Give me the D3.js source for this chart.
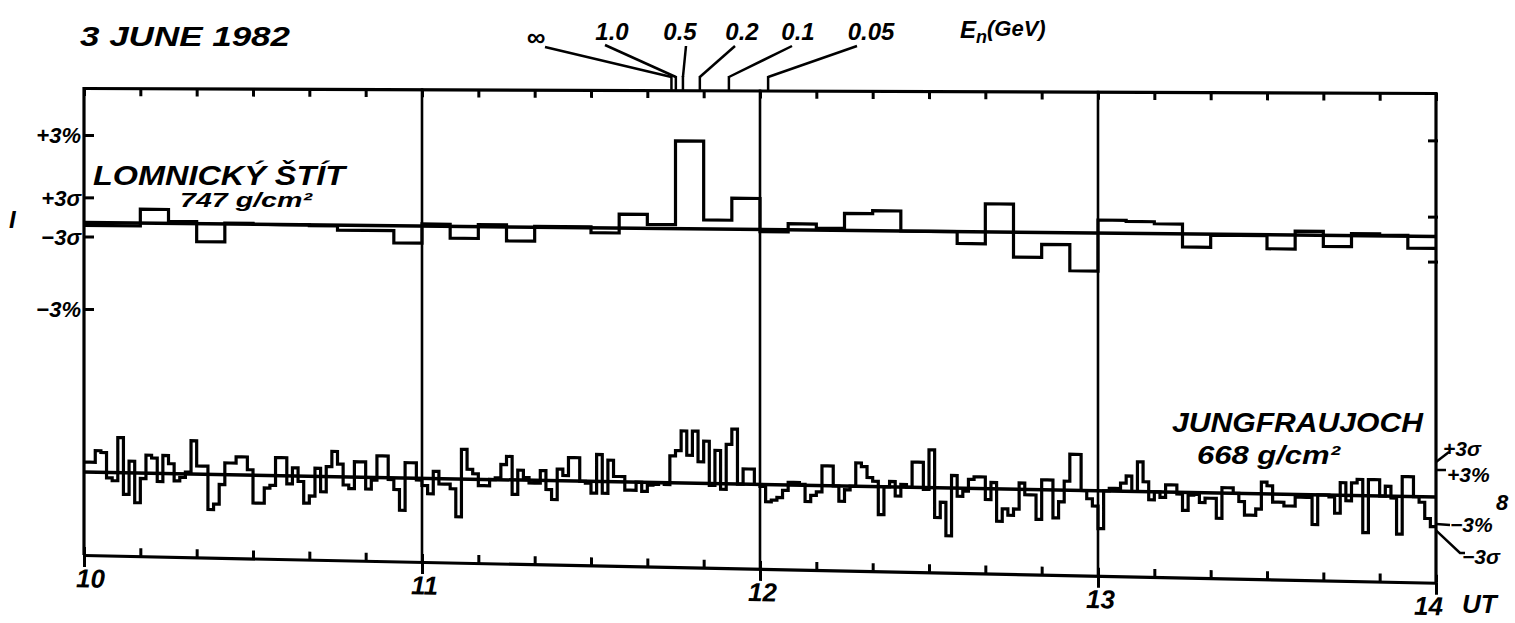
<!DOCTYPE html>
<html><head><meta charset="utf-8">
<script src="https://cdn.jsdelivr.net/npm/d3@7"></script>
<style>
html,body{margin:0;padding:0;background:#fff;}
svg{display:block;background:#fff;}
text{font-family:"Liberation Sans","DejaVu Sans",sans-serif;font-weight:bold;font-style:italic;fill:#000;}
</style></head><body>
<svg id="chart" width="1515" height="623"></svg>
<script>
// ---------------- DATA ----------------
const title = "3 JUNE 1982";
const hourTicks = [10, 11, 12, 13, 14];
const hourLabels = ["10", "11", "12", "13", "14"];
const timeUnit = "UT";
const energyLabels = ["∞", "1.0", "0.5", "0.2", "0.1", "0.05"];
const energyTimes = [11.738, 11.751, 11.772, 11.822, 11.908, 12.024];
const energyAxisTitle = ["E", "n", "(GeV)"];

// Lomnický Štít, 5-minute means, % deviation (10:00 - 14:00 UT)
const lomnickyName = "LOMNICKÝ ŠTÍT";
const lomnickyDepth = "747 g/cm²";
const lomnickyBinMinutes = 5;
const lomnicky = [
  -0.10,-0.10, 0.48, 0.07,-0.62, 0.03, 0.00, 0.00,-0.03,-0.17,-0.17,-0.59,
   0.07,-0.41, 0.07,-0.48, 0.03, 0.03,-0.17, 0.48, 0.14, 3.03, 0.31, 1.07,
  -0.07, 0.21, 0.07, 0.59, 0.69, 0.00, 0.00,-0.41, 0.97,-0.86,-0.41,-1.31,
   0.45, 0.41, 0.34,-0.45,-0.03,-0.03,-0.48, 0.14,-0.38, 0.07, 0.03,-0.41
];
const lomnickyTickValues = [3, 0.85, -0.5, -3];
const lomnickyTickLabels = ["+3%", "+3σ", "−3σ", "−3%"];
const lomnickyRightTicks = [3.3, 0.67, -0.88];

// Jungfraujoch, 1-minute values, % deviation
const jungName = "JUNGFRAUJOCH";
const jungDepth = "668 g/cm²";
const jungBinMinutes = 1;
const jung10 = [1.1,1.1,2.4,2.2,-0.6,-0.9,3.9,-2.4,1.3,-3.3, -0.6,2.0,1.7,-0.9,2.0,1.1,-0.8,-0.4,0.2,3.7,
  0.9,0.9,-3.9,-3.3,-1.1,1.3,1.3,2.0,2.0,0.6, -3.1,-3.1,-1.4,-1.1,2.0,2.0,-0.9,0.9,-0.6,-3.0,
  -2.2,0.9,-1.7,1.1,2.8,1.4,-0.9,-1.3,1.7,1.7, -1.3,-0.3,2.4,2.4,-0.2,-1.3,-3.6,1.7,1.7,-0.2];
const jung11 = [-0.8,-1.7,0.8,-0.6,-0.6,-1.1,-4.2,3.3,1.1,0.6, -0.7,-0.7,0,0.2,1.7,2.6,-1.6,1.1,0.3,-0.3,
  -0.3,1.1,-1.0,-2.1,1.3,0.6,2.6,2.6,0,-0.2, -1.3,3.0,-1.3,2.4,0.6,0.6,-0.9,-0.9,0,-1.0,
  -0.3,-0.2,0,-0.2,3.0,3.6,5.8,3.1,5.8,2.4, 4.7,-0.2,3.7,-0.6,4.4,6.1,0,1.7,1.7,0];
const jung12 = [-0.2,-1.9,-1.7,-1.4,-0.6,0.3,0.3,0.1,-1.8,-1.1, -0.7,2.2,2.2,0,-1.7,-0.4,0,2.6,2.2,1.0,
  0.6,-3.1,0,0.6,-1.0,0.3,0,2.8,2.8,-0.2, 4.2,-3.3,-1.6,-5.3,1.4,-0.9,-0.3,1.0,1.3,1.3,
  -1.2,0.7,-3.6,-2.2,-2.9,-2.2,0.7,-0.6,-0.6,-3.3, 1.1,1.1,-3.1,-1.3,1.0,4.0,4.0,0,-0.9,-1.7];
const jung13 = [-4.2,0,0.3,0.3,0.9,1.7,0,3.3,1.1,-0.9, 0,-0.6,0.8,0.8,-0.2,-2.0,-0.3,-0.2,-1.1,-0.6,
  -0.6,-2.8,0.6,0.6,0,-0.9,-2.4,-2.4,-1.7,1.3, 0.9,-0.9,-0.9,-1.3,-1.3,-0.3,-0.3,-0.3,-3.3,0,
  0,-0.2,-2.0,1.4,-0.6,1.4,1.8,-4.1,1.8,1.8, 0,1.1,-0.2,-4.2,2.2,2.2,0,-0.6,-2.4,-3.3];
const jungTickValues = [3.9, 3, -3, -3.7];
const jungTickLabels = ["+3σ", "+3%", "−3%", "−3σ"];
const jungExtraLabel = "8";

// ---------------- LAYOUT ----------------
const W = 1515, H = 623;
const X0 = 84, X1 = 1436;
const TOP = 88, BOT = 555;
const K = {top: 0.0037, up: 0.0104, low: 0.0185, bot: 0.0205};

const svg = d3.select("#chart");
svg.append("rect").attr("width", W).attr("height", H).attr("fill", "#fff");

const x = d3.scaleLinear().domain([10, 14]).range([X0, X1]);
const yU = d3.scaleLinear().domain([-3, 3]).range([309.5, 135.5]);
const yL = d3.scaleLinear().domain([-3, 3]).range([499, 445]);
const skew = (k, ty) => `matrix(1,${k},0,1,0,${ty - k * X0})`;
const tilt = (k, px) => k * (px - X0);

const minorTicks = d3.range(0, 241, 10).map(m => 10 + m / 60);

// top border with inward ticks
const gTop = svg.append("g").attr("transform", skew(K.top, TOP))
  .call(d3.axisBottom(x).tickValues(minorTicks).tickSize(8).tickSizeOuter(0).tickFormat(""));
gTop.select(".domain").attr("stroke", "#000").attr("stroke-width", 3.2);
gTop.selectAll(".tick line").attr("stroke", "#000").attr("stroke-width", 3);

// bottom axis
const gBot = svg.append("g").attr("transform", skew(K.bot, BOT));
gBot.call(d3.axisTop(x).tickValues(minorTicks).tickSize(8).tickSizeOuter(0).tickFormat(""));
gBot.select(".domain").attr("stroke", "#000").attr("stroke-width", 3.2);
gBot.selectAll(".tick line").attr("stroke", "#000").attr("stroke-width", 3);
const gBotH = svg.append("g").attr("transform", skew(K.bot, BOT))
  .call(d3.axisBottom(x).tickValues(hourTicks).tickSize(12).tickPadding(2).tickSizeOuter(0)
    .tickFormat((d, i) => hourLabels[i]));
gBotH.select(".domain").remove();
gBotH.selectAll(".tick line").attr("stroke", "#000").attr("stroke-width", 3);
gBotH.selectAll(".tick text").attr("font-size", 26).attr("fill", "#000")
  .attr("font-family", '"Liberation Sans","DejaVu Sans",sans-serif')
  .attr("dx", (d) => d === 14 ? -8 : (d === 10 ? 6 : 2));
svg.append("text").attr("x", x(14) + 26).attr("y", 613)
  .attr("font-size", 26).text(timeUnit);

// vertical hour lines
svg.append("g").selectAll("line").data(hourTicks).join("line")
  .attr("x1", d => x(d)).attr("x2", d => x(d))
  .attr("y1", d => TOP + tilt(K.top, x(d)) - 1)
  .attr("y2", d => BOT + tilt(K.bot, x(d)))
  .attr("stroke", "#000").attr("stroke-width", d => (d === 10 || d === 14) ? 3.2 : 2.6);

// ---------- Lomnický panel ----------
const gU = svg.append("g").attr("transform", skew(K.up, 0));
gU.append("line").attr("x1", x(10)).attr("x2", x(14)).attr("y1", yU(0)).attr("y2", yU(0))
  .attr("stroke", "#000").attr("stroke-width", 3.5);
const lomPts = lomnicky.map((v, i) => [10 + i * lomnickyBinMinutes / 60, v]);
lomPts.push([14, lomnicky[lomnicky.length - 1]]);
const stepU = d3.line().x(d => x(d[0])).y(d => yU(d[1])).curve(d3.curveStepAfter);
gU.append("path").attr("d", stepU(lomPts)).attr("fill", "none")
  .attr("stroke", "#000").attr("stroke-width", 3.2);

// left axis ticks & labels
const gLA = svg.append("g");
gLA.selectAll("line").data(lomnickyTickValues).join("line")
  .attr("x1", X0).attr("x2", X0 + 10).attr("y1", d => yU(d)).attr("y2", d => yU(d))
  .attr("stroke", "#000").attr("stroke-width", 3);
gLA.selectAll("text").data(lomnickyTickValues).join("text")
  .attr("x", X0 - 3).attr("y", d => yU(d)).attr("dy", "0.36em")
  .attr("text-anchor", "end").attr("font-size", 22)
  .text((d, i) => lomnickyTickLabels[i]);
svg.append("g").selectAll("line").data(lomnickyRightTicks).join("line")
  .attr("x1", X1 - 8).attr("x2", X1 + 2)
  .attr("y1", d => yU(d) + tilt(K.up, X1)).attr("y2", d => yU(d) + tilt(K.up, X1))
  .attr("stroke", "#000").attr("stroke-width", 3);
svg.append("text").attr("x", 9).attr("y", 228).attr("font-size", 24).attr("font-style", "normal").text("I");

svg.append("text").attr("x", 93).attr("y", 185).attr("font-size", 27)
  .attr("textLength", 252).attr("lengthAdjust", "spacingAndGlyphs").text(lomnickyName);
svg.append("text").attr("x", 180).attr("y", 207).attr("font-size", 21)
  .attr("textLength", 132).attr("lengthAdjust", "spacingAndGlyphs").text(lomnickyDepth);

// ---------- Jungfraujoch panel ----------
const gL = svg.append("g").attr("transform", skew(K.low, 0));
gL.append("line").attr("x1", x(10)).attr("x2", x(14)).attr("y1", yL(0)).attr("y2", yL(0))
  .attr("stroke", "#000").attr("stroke-width", 3.5);
const jung = [...jung10, ...jung11, ...jung12, ...jung13];
const jungPts = jung.map((v, i) => [10 + i * jungBinMinutes / 60, v]);
jungPts.push([14, jung[jung.length - 1]]);
const stepL = d3.line().x(d => x(d[0])).y(d => yL(d[1])).curve(d3.curveStepAfter);
gL.append("path").attr("d", stepL(jungPts)).attr("fill", "none")
  .attr("stroke", "#000").attr("stroke-width", 3.2);

// right axis (Jungfraujoch)
const yR = v => yL(v) + tilt(K.low, X1);
const jungLabelPos = [[1443, 456, 1449, 452], [1447, 482, 1446, null], [1450, 532, 1450, 525], [1458, 564, 1460, 553]];
const gRA = svg.append("g");
jungTickValues.forEach((v, i) => {
  const p = jungLabelPos[i];
  const yy = yR(v);
  const y2 = p[3] === null ? yy : p[3];
  gRA.append("path").attr("d", `M${X1},${yy}L${p[2]},${y2}` + (i === 3 ? `L${p[2] + 5},${y2}` : ""))
    .attr("fill", "none").attr("stroke", "#000").attr("stroke-width", 2.5);
  gRA.append("text").attr("x", p[0] + (i === 3 ? 4 : 0)).attr("y", p[1]).attr("font-size", 21).text(jungTickLabels[i]);
});
svg.append("text").attr("x", 1496).attr("y", 510).attr("font-size", 22).text(jungExtraLabel);

svg.append("text").attr("x", 1172).attr("y", 432).attr("font-size", 27)
  .attr("textLength", 251).attr("lengthAdjust", "spacingAndGlyphs").text(jungName);
svg.append("text").attr("x", 1197).attr("y", 464).attr("font-size", 26)
  .attr("textLength", 143).attr("lengthAdjust", "spacingAndGlyphs").text(jungDepth);

// ---------- title & energy markers ----------
svg.append("text").attr("x", 80).attr("y", 46).attr("font-size", 27)
  .attr("textLength", 210).attr("lengthAdjust", "spacingAndGlyphs").text(title);

const energyLabelX = [536, 612, 680, 742, 798, 871];
const leaderStart = [[545, 47], [605, 45], [686, 46], [735, 46], [792, 46], [857, 46]];
const gE = svg.append("g");
energyTimes.forEach((t, i) => {
  const mx = x(t);
  const ty = TOP + tilt(K.top, mx);
  gE.append("line").attr("x1", mx).attr("x2", mx).attr("y1", 76).attr("y2", ty)
    .attr("stroke", "#000").attr("stroke-width", 2.5);
  gE.append("line").attr("x1", leaderStart[i][0]).attr("y1", leaderStart[i][1])
    .attr("x2", mx).attr("y2", 77).attr("stroke", "#000").attr("stroke-width", 2.5);
  gE.append("text").attr("x", energyLabelX[i]).attr("y", i === 0 ? 46 : 40)
    .attr("text-anchor", "middle").attr("font-size", i === 0 ? 26 : 24).text(energyLabels[i]);
});
const eT = svg.append("text").attr("x", 960).attr("y", 38).attr("font-size", 24);
eT.append("tspan").text(energyAxisTitle[0]);
eT.append("tspan").attr("font-size", 18).attr("dy", 5).text(energyAxisTitle[1]);
eT.append("tspan").attr("font-size", 22).attr("dy", -7).text(energyAxisTitle[2]);
</script>
</body></html>
